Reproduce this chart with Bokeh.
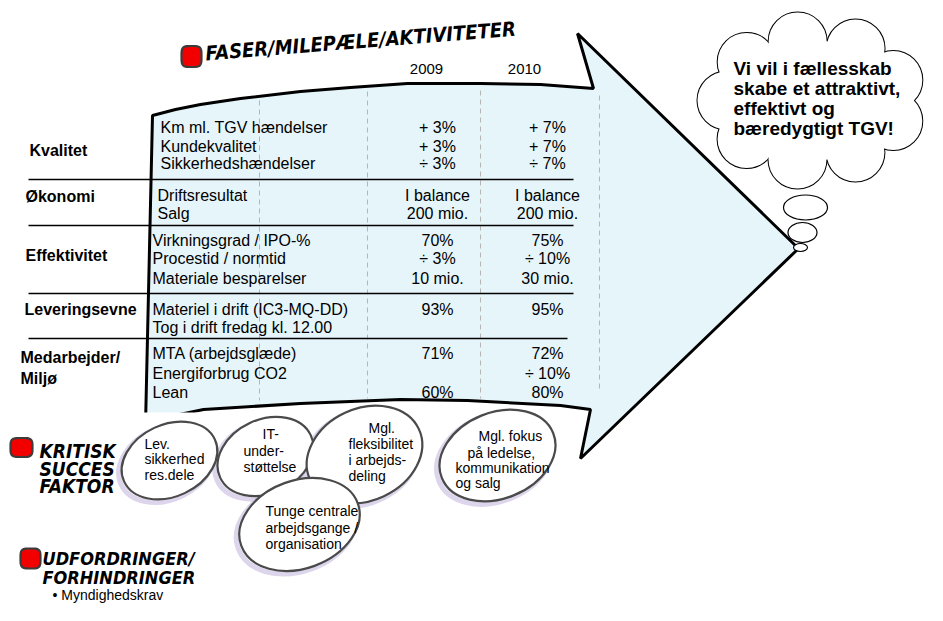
import numpy as np
from bokeh.plotting import figure
from bokeh.models import Range1d
from bokeh.core.properties import value
from bokeh.embed import file_html
from bokeh.resources import INLINE

# ---------------- data (texts & values) ----------------
years = ["2009", "2010"]
categories = ["Kvalitet", "Økonomi", "Effektivitet", "Leveringsevne", "Medarbejder/", "Miljø"]
measures = ["Km ml. TGV hændelser", "Kundekvalitet", "Sikkerhedshændelser",
            "Driftsresultat", "Salg",
            "Virkningsgrad / IPO-%", "Procestid / normtid", "Materiale besparelser",
            "Materiel i drift (IC3-MQ-DD)", "Tog i drift fredag kl. 12.00",
            "MTA (arbejdsglæde)", "Energiforbrug CO2", "Lean"]
targets_2009 = ["+ 3%", "+ 3%", "÷ 3%", "I balance", "200 mio.", "70%", "÷ 3%", "10 mio.",
                "93%", "", "71%", "", "60%"]
targets_2010 = ["+ 7%", "+ 7%", "÷ 7%", "I balance", "200 mio.", "75%", "÷ 10%", "30 mio.",
                "95%", "", "72%", "÷ 10%", "80%"]
phase_title = "FASER/MILEPÆLE/AKTIVITETER"
vision = ["Vi vil i fællesskab", "skabe et attraktivt,", "effektivt og", "bæredygtigt TGV!"]
csf_title = ["KRITISK", "SUCCES", "FAKTOR"]
success_factors = [["Lev.", "sikkerhed", "res.dele"],
                   ["IT-", "under-", "støttelse"],
                   ["Mgl.", "fleksibilitet", "i arbejds-", "deling"],
                   ["Mgl. fokus", "på ledelse,", "kommunikation", "og salg"],
                   ["Tunge centrale", "arbejdsgange /", "organisation"]]
challenge_title = ["UDFORDRINGER/", "FORHINDRINGER"]
challenges = ["• Myndighedskrav"]

# ---------------- layout (pixel positions) ----------------
year_x = [426, 524]
year_y = 68
cat_x = [29, 25, 25, 24, 20, 20]
cat_y = [150, 196, 255, 309, 357, 378]
meas_x = [160, 160, 160, 157, 157, 152, 152, 152, 152, 152, 152, 152, 152]
meas_y = [127, 146, 163, 195, 213, 240, 258, 278, 309, 327, 353, 373, 392]
col_x = [437, 547]
sep_y = [179, 225, 293, 338]
sep_x1 = [573, 573, 573, 567]
dash_x = [259, 367, 480, 599]
dash_top = [100, 91, 90, 95]
dash_bot = [400, 398, 398, 388]

arrow_x = [152, 175, 200, 240, 300, 350, 407, 480, 540, 593,
           577, 798, 580, 590,
           560, 467, 400, 300, 203, 160, 145]
arrow_y = [115, 109, 104, 98, 91, 87, 83, 83, 84, 88,
           33, 248, 458, 409,
           405, 400, 399, 403, 409, 418, 425]

ell_cx = [169, 265, 364, 497, 299]
ell_cy = [460, 456, 454, 455, 524]
ell_w = [100, 100, 120, 120, 124]
ell_h = [72, 74, 92, 86, 88]
ell_ang = [25, 25, 25, 22, 20]
ell_tx = [[144, 144, 144], [262, 243, 243], [368, 348, 348, 348], [478, 467, 455, 455], [265, 265, 265]]
ell_ty = [[443, 458, 474], [433, 450, 466], [427, 443, 459, 475], [435, 452, 467, 482], [510, 527, 543]]

SANS = "Liberation Sans"
COMIC = "'DejaVu Sans Condensed', 'DejaVu Sans', sans-serif"

p = figure(width=927, height=605, x_range=Range1d(0, 927), y_range=Range1d(605, 0),
           output_backend="svg", toolbar_location=None, min_border=0)
p.xaxis.visible = False
p.yaxis.visible = False
p.grid.visible = False
p.outline_line_color = None
p.background_fill_color = "white"
p.border_fill_color = "white"


def txt(xs, ys, texts, size, style="normal", align="left", font=SANS, angle=0.0):
    p.text(x=xs, y=ys, text=texts, text_font=value(font), text_font_size=size,
           text_font_style=style, text_align=align, text_baseline="middle",
           text_color="black", angle=angle)


def bullet(cx, cy, w, h):
    t = np.linspace(0, 2 * np.pi, 60)
    c, s = np.cos(t), np.sin(t)
    bx = cx + w / 2 * np.sign(c) * np.abs(c) ** 0.5
    by = cy + h / 2 * np.sign(s) * np.abs(s) ** 0.5
    p.patch(list(bx), list(by), fill_color="#f20000", line_color="#3c3c3c", line_width=2.2)


# arrow
p.patch(arrow_x, arrow_y, fill_color="#e6f5fa", line_color="black", line_width=3)
p.segment(x0=dash_x, y0=dash_top, x1=dash_x, y1=dash_bot, line_color="#b5b5b5",
          line_dash="5 4", line_width=1)
p.quad(left=[118], right=[203], top=[412], bottom=[440], fill_color="white", line_color=None)

# table
p.segment(x0=[28] * 4, y0=sep_y, x1=sep_x1, y1=sep_y, line_color="black", line_width=1.5)
txt(year_x, [year_y] * 2, years, "15px", align="center")
txt(cat_x, cat_y, categories, "16px", style="bold")
txt(meas_x, meas_y, measures, "16px")
for cx, vals in zip(col_x, [targets_2009, targets_2010]):
    ys = [y for y, v in zip(meas_y, vals) if v]
    vs = [v for v in vals if v]
    txt([cx] * len(vs), ys, vs, "16px", align="center")

# heading + bullet
bullet(191, 56, 20, 21)
txt([205], [53], [phase_title], "20px", style="bold italic", font=COMIC, angle=0.08)

# thought cloud
t = np.linspace(0, 2 * np.pi, 10)[:-1] + 0.35
bx = 812 + 86 * np.cos(t)
by = 100 + 60 * np.sin(t)
p.ellipse([812], [100], width=172, height=120, fill_color="white", line_color="black", line_width=2)
p.circle(list(bx), list(by), radius=29, fill_color="white", line_color="black", line_width=2)
p.ellipse([812], [100], width=172, height=120, fill_color="white", line_color=None)
p.circle(list(bx), list(by), radius=29, fill_color="white", line_color=None)
p.ellipse([805, 802, 800], [207, 232, 247], width=[44, 29, 14], height=[25, 20, 8],
          fill_color="white", line_color="black", line_width=1.2)
txt([733] * 4, [68, 88, 108, 128], vision, "19px", style="bold")

# critical success factors
bullet(21, 447, 22, 19)
txt([39] * 3, [450, 468, 485], csf_title, "19px", style="bold italic", font=COMIC)
ang = [np.deg2rad(a) for a in ell_ang]
p.ellipse([x - 3 for x in ell_cx], [y + 3 for y in ell_cy], width=ell_w, height=ell_h, angle=ang,
          fill_color=None, line_color="#cdc3e2", line_width=5, line_alpha=0.7)
for i in range(len(ell_cx)):
    p.ellipse([ell_cx[i]], [ell_cy[i]], width=ell_w[i], height=ell_h[i], angle=ang[i],
              fill_color="white", line_color="#4a4a4a", line_width=2.2)
for tx, ty, lines in zip(ell_tx, ell_ty, success_factors):
    txt(tx, ty, lines, "14px")

# challenges
bullet(30, 558, 20, 20)
txt([42, 42], [558, 577], challenge_title, "18px", style="bold italic", font=COMIC)
txt([52], [594], challenges, "14px")

open("out.html", "w").write(file_html(p, INLINE))
